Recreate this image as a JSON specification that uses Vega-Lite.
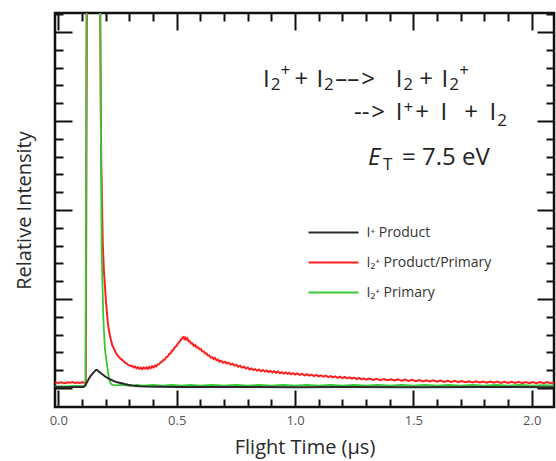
{
  "$schema": "https://vega.github.io/schema/vega-lite/v6.json",
  "width": 499,
  "height": 394,
  "autosize": {"type": "none"},
  "padding": {"left": 55, "top": 13, "right": 2, "bottom": 54},
  "config": {
    "font": "Open Sans",
    "view": {"stroke": "#111111", "strokeWidth": 2.5},
    "axis": {"grid": false, "domain": false, "tickColor": "#111111", "tickWidth": 2, "titleFontWeight": "normal", "titleColor": "#2a2a2a", "labelColor": "#555555", "titleFont": "Open Sans", "labelFont": "Open Sans"},
    "legend": {"labelFont": "Open Sans"}
  },
  "datasets": {
    "red": [
      {"t": -0.014, "v": 0.062, "s": "r"}, {"t": 0.0, "v": 0.058, "s": "r"}, {"t": 0.01, "v": 0.066, "s": "r"}, {"t": 0.02, "v": 0.06, "s": "r"}, {"t": 0.03, "v": 0.055, "s": "r"}, {"t": 0.04, "v": 0.064, "s": "r"}, {"t": 0.05, "v": 0.059, "s": "r"}, {"t": 0.06, "v": 0.067, "s": "r"}, {"t": 0.07, "v": 0.057, "s": "r"}, {"t": 0.08, "v": 0.062, "s": "r"}, {"t": 0.09, "v": 0.058, "s": "r"}, {"t": 0.1, "v": 0.065, "s": "r"}, {"t": 0.11, "v": 0.06, "s": "r"}, {"t": 0.116, "v": 0.07, "s": "r"},
      {"t": 0.121, "v": 4.6, "s": "r"}, {"t": 0.176, "v": 4.6, "s": "r"}, {"t": 0.181, "v": 2.6, "s": "r"}, {"t": 0.188, "v": 1.6, "s": "r"}, {"t": 0.193, "v": 1.3, "s": "r"}, {"t": 0.197, "v": 1.15, "s": "r"}, {"t": 0.201, "v": 0.98, "s": "r"}, {"t": 0.205, "v": 0.86, "s": "r"}, {"t": 0.209, "v": 0.74, "s": "r"}, {"t": 0.213, "v": 0.66, "s": "r"}, {"t": 0.218, "v": 0.59, "s": "r"}, {"t": 0.223, "v": 0.53, "s": "r"}, {"t": 0.228, "v": 0.48, "s": "r"}, {"t": 0.234, "v": 0.45, "s": "r"}, {"t": 0.24, "v": 0.41, "s": "r"}, {"t": 0.246, "v": 0.385, "s": "r"}, {"t": 0.252, "v": 0.36, "s": "r"}, {"t": 0.258, "v": 0.345, "s": "r"}, {"t": 0.264, "v": 0.325, "s": "r"}, {"t": 0.27, "v": 0.318, "s": "r"}, {"t": 0.276, "v": 0.3, "s": "r"}, {"t": 0.282, "v": 0.285, "s": "r"}, {"t": 0.288, "v": 0.278, "s": "r"}, {"t": 0.294, "v": 0.262, "s": "r"}, {"t": 0.3, "v": 0.258, "s": "r"}, {"t": 0.306, "v": 0.245, "s": "r"}, {"t": 0.312, "v": 0.25, "s": "r"}, {"t": 0.318, "v": 0.232, "s": "r"}, {"t": 0.324, "v": 0.242, "s": "r"}, {"t": 0.33, "v": 0.222, "s": "r"}, {"t": 0.336, "v": 0.235, "s": "r"}, {"t": 0.342, "v": 0.215, "s": "r"}, {"t": 0.348, "v": 0.23, "s": "r"}, {"t": 0.354, "v": 0.212, "s": "r"}, {"t": 0.36, "v": 0.232, "s": "r"}, {"t": 0.366, "v": 0.218, "s": "r"}, {"t": 0.372, "v": 0.234, "s": "r"}, {"t": 0.378, "v": 0.215, "s": "r"}, {"t": 0.384, "v": 0.236, "s": "r"}, {"t": 0.39, "v": 0.222, "s": "r"}, {"t": 0.396, "v": 0.244, "s": "r"}, {"t": 0.402, "v": 0.23, "s": "r"}, {"t": 0.408, "v": 0.252, "s": "r"}, {"t": 0.414, "v": 0.243, "s": "r"}, {"t": 0.42, "v": 0.265, "s": "r"}, {"t": 0.426, "v": 0.268, "s": "r"}, {"t": 0.432, "v": 0.288, "s": "r"}, {"t": 0.438, "v": 0.294, "s": "r"}, {"t": 0.444, "v": 0.316, "s": "r"}, {"t": 0.45, "v": 0.32, "s": "r"}, {"t": 0.456, "v": 0.348, "s": "r"}, {"t": 0.462, "v": 0.352, "s": "r"}, {"t": 0.468, "v": 0.381, "s": "r"}, {"t": 0.474, "v": 0.388, "s": "r"}, {"t": 0.48, "v": 0.418, "s": "r"}, {"t": 0.486, "v": 0.428, "s": "r"}, {"t": 0.492, "v": 0.458, "s": "r"}, {"t": 0.498, "v": 0.468, "s": "r"}, {"t": 0.504, "v": 0.495, "s": "r"}, {"t": 0.51, "v": 0.512, "s": "r"}, {"t": 0.516, "v": 0.535, "s": "r"}, {"t": 0.52, "v": 0.552, "s": "r"}, {"t": 0.524, "v": 0.566, "s": "r"}, {"t": 0.528, "v": 0.572, "s": "r"}, {"t": 0.532, "v": 0.552, "s": "r"}, {"t": 0.536, "v": 0.568, "s": "r"}, {"t": 0.54, "v": 0.545, "s": "r"}, {"t": 0.545, "v": 0.558, "s": "r"}, {"t": 0.55, "v": 0.527, "s": "r"}, {"t": 0.555, "v": 0.528, "s": "r"}, {"t": 0.56, "v": 0.502, "s": "r"}, {"t": 0.566, "v": 0.503, "s": "r"}, {"t": 0.572, "v": 0.475, "s": "r"}, {"t": 0.578, "v": 0.485, "s": "r"}, {"t": 0.584, "v": 0.457, "s": "r"}, {"t": 0.59, "v": 0.458, "s": "r"}, {"t": 0.596, "v": 0.437, "s": "r"}, {"t": 0.602, "v": 0.438, "s": "r"}, {"t": 0.608, "v": 0.412, "s": "r"}, {"t": 0.614, "v": 0.411, "s": "r"}, {"t": 0.62, "v": 0.387, "s": "r"}, {"t": 0.626, "v": 0.388, "s": "r"}, {"t": 0.632, "v": 0.365, "s": "r"}, {"t": 0.638, "v": 0.365, "s": "r"}, {"t": 0.644, "v": 0.342, "s": "r"}, {"t": 0.65, "v": 0.345, "s": "r"}, {"t": 0.656, "v": 0.325, "s": "r"}, {"t": 0.662, "v": 0.338, "s": "r"}, {"t": 0.668, "v": 0.312, "s": "r"}, {"t": 0.674, "v": 0.321, "s": "r"}, {"t": 0.68, "v": 0.297, "s": "r"}, {"t": 0.688, "v": 0.308, "s": "r"}, {"t": 0.696, "v": 0.285, "s": "r"}, {"t": 0.704, "v": 0.295, "s": "r"}, {"t": 0.712, "v": 0.275, "s": "r"}, {"t": 0.72, "v": 0.285, "s": "r"}, {"t": 0.728, "v": 0.263, "s": "r"}, {"t": 0.736, "v": 0.273, "s": "r"}, {"t": 0.744, "v": 0.252, "s": "r"}, {"t": 0.752, "v": 0.261, "s": "r"}, {"t": 0.76, "v": 0.239, "s": "r"}, {"t": 0.768, "v": 0.251, "s": "r"}, {"t": 0.776, "v": 0.229, "s": "r"}, {"t": 0.784, "v": 0.239, "s": "r"}, {"t": 0.792, "v": 0.219, "s": "r"}, {"t": 0.8, "v": 0.231, "s": "r"}, {"t": 0.808, "v": 0.209, "s": "r"}, {"t": 0.816, "v": 0.221, "s": "r"}, {"t": 0.824, "v": 0.202, "s": "r"}, {"t": 0.832, "v": 0.213, "s": "r"}, {"t": 0.84, "v": 0.195, "s": "r"}, {"t": 0.848, "v": 0.208, "s": "r"}, {"t": 0.856, "v": 0.189, "s": "r"}, {"t": 0.864, "v": 0.203, "s": "r"}, {"t": 0.872, "v": 0.185, "s": "r"}, {"t": 0.88, "v": 0.198, "s": "r"}, {"t": 0.888, "v": 0.181, "s": "r"}, {"t": 0.896, "v": 0.193, "s": "r"}, {"t": 0.904, "v": 0.175, "s": "r"}, {"t": 0.912, "v": 0.189, "s": "r"}, {"t": 0.92, "v": 0.172, "s": "r"}, {"t": 0.928, "v": 0.185, "s": "r"}, {"t": 0.936, "v": 0.167, "s": "r"}, {"t": 0.944, "v": 0.179, "s": "r"}, {"t": 0.952, "v": 0.163, "s": "r"}, {"t": 0.96, "v": 0.175, "s": "r"}, {"t": 0.968, "v": 0.159, "s": "r"}, {"t": 0.976, "v": 0.171, "s": "r"}, {"t": 0.984, "v": 0.155, "s": "r"}, {"t": 0.992, "v": 0.168, "s": "r"}, {"t": 1.0, "v": 0.152, "s": "r"}, {"t": 1.01, "v": 0.165, "s": "r"}, {"t": 1.02, "v": 0.147, "s": "r"}, {"t": 1.03, "v": 0.159, "s": "r"}, {"t": 1.04, "v": 0.143, "s": "r"}, {"t": 1.05, "v": 0.155, "s": "r"}, {"t": 1.06, "v": 0.139, "s": "r"}, {"t": 1.07, "v": 0.151, "s": "r"}, {"t": 1.08, "v": 0.135, "s": "r"}, {"t": 1.09, "v": 0.148, "s": "r"}, {"t": 1.1, "v": 0.131, "s": "r"}, {"t": 1.11, "v": 0.143, "s": "r"}, {"t": 1.12, "v": 0.127, "s": "r"}, {"t": 1.13, "v": 0.139, "s": "r"}, {"t": 1.14, "v": 0.123, "s": "r"}, {"t": 1.15, "v": 0.135, "s": "r"}, {"t": 1.16, "v": 0.119, "s": "r"}, {"t": 1.17, "v": 0.131, "s": "r"}, {"t": 1.18, "v": 0.115, "s": "r"}, {"t": 1.19, "v": 0.128, "s": "r"}, {"t": 1.2, "v": 0.112, "s": "r"}, {"t": 1.21, "v": 0.124, "s": "r"}, {"t": 1.22, "v": 0.108, "s": "r"}, {"t": 1.23, "v": 0.12, "s": "r"}, {"t": 1.24, "v": 0.105, "s": "r"}, {"t": 1.25, "v": 0.117, "s": "r"}, {"t": 1.26, "v": 0.101, "s": "r"}, {"t": 1.27, "v": 0.113, "s": "r"}, {"t": 1.28, "v": 0.098, "s": "r"}, {"t": 1.29, "v": 0.11, "s": "r"}, {"t": 1.3, "v": 0.095, "s": "r"}, {"t": 1.315, "v": 0.107, "s": "r"}, {"t": 1.33, "v": 0.092, "s": "r"}, {"t": 1.345, "v": 0.104, "s": "r"}, {"t": 1.36, "v": 0.089, "s": "r"}, {"t": 1.375, "v": 0.102, "s": "r"}, {"t": 1.39, "v": 0.087, "s": "r"}, {"t": 1.405, "v": 0.099, "s": "r"}, {"t": 1.42, "v": 0.084, "s": "r"}, {"t": 1.435, "v": 0.097, "s": "r"}, {"t": 1.45, "v": 0.082, "s": "r"}, {"t": 1.465, "v": 0.094, "s": "r"}, {"t": 1.48, "v": 0.08, "s": "r"}, {"t": 1.495, "v": 0.092, "s": "r"}, {"t": 1.51, "v": 0.077, "s": "r"}, {"t": 1.525, "v": 0.09, "s": "r"}, {"t": 1.54, "v": 0.075, "s": "r"}, {"t": 1.555, "v": 0.088, "s": "r"}, {"t": 1.57, "v": 0.073, "s": "r"}, {"t": 1.585, "v": 0.086, "s": "r"}, {"t": 1.6, "v": 0.071, "s": "r"}, {"t": 1.615, "v": 0.084, "s": "r"}, {"t": 1.63, "v": 0.069, "s": "r"}, {"t": 1.645, "v": 0.082, "s": "r"}, {"t": 1.66, "v": 0.068, "s": "r"}, {"t": 1.675, "v": 0.08, "s": "r"}, {"t": 1.69, "v": 0.066, "s": "r"}, {"t": 1.705, "v": 0.079, "s": "r"}, {"t": 1.72, "v": 0.065, "s": "r"}, {"t": 1.735, "v": 0.077, "s": "r"}, {"t": 1.75, "v": 0.063, "s": "r"}, {"t": 1.765, "v": 0.076, "s": "r"}, {"t": 1.78, "v": 0.062, "s": "r"}, {"t": 1.795, "v": 0.074, "s": "r"}, {"t": 1.81, "v": 0.061, "s": "r"}, {"t": 1.825, "v": 0.073, "s": "r"}, {"t": 1.84, "v": 0.059, "s": "r"}, {"t": 1.855, "v": 0.072, "s": "r"}, {"t": 1.87, "v": 0.058, "s": "r"}, {"t": 1.885, "v": 0.071, "s": "r"}, {"t": 1.9, "v": 0.057, "s": "r"}, {"t": 1.915, "v": 0.07, "s": "r"}, {"t": 1.93, "v": 0.056, "s": "r"}, {"t": 1.945, "v": 0.069, "s": "r"}, {"t": 1.96, "v": 0.055, "s": "r"}, {"t": 1.975, "v": 0.068, "s": "r"}, {"t": 1.99, "v": 0.055, "s": "r"}, {"t": 2.005, "v": 0.067, "s": "r"}, {"t": 2.02, "v": 0.054, "s": "r"}, {"t": 2.035, "v": 0.067, "s": "r"}, {"t": 2.05, "v": 0.054, "s": "r"}, {"t": 2.065, "v": 0.066, "s": "r"}, {"t": 2.08, "v": 0.053, "s": "r"}, {"t": 2.094, "v": 0.064, "s": "r"}
    ],
    "green": [
      {"t": -0.014, "v": 0.022, "s": "g"}, {"t": 0.03, "v": 0.018, "s": "g"}, {"t": 0.07, "v": 0.024, "s": "g"}, {"t": 0.11, "v": 0.02, "s": "g"}, {"t": 0.115, "v": 0.03, "s": "g"}, {"t": 0.119, "v": 4.6, "s": "g"}, {"t": 0.173, "v": 4.6, "s": "g"}, {"t": 0.177, "v": 4.2, "s": "g"}, {"t": 0.18, "v": 2.8, "s": "g"}, {"t": 0.183, "v": 1.55, "s": "g"}, {"t": 0.19, "v": 0.8, "s": "g"}, {"t": 0.197, "v": 0.43, "s": "g"}, {"t": 0.207, "v": 0.24, "s": "g"}, {"t": 0.213, "v": 0.13, "s": "g"}, {"t": 0.218, "v": 0.07, "s": "g"}, {"t": 0.225, "v": 0.04, "s": "g"}, {"t": 0.24, "v": 0.03, "s": "g"}, {"t": 0.27, "v": 0.035, "s": "g"}, {"t": 0.3, "v": 0.025, "s": "g"}, {"t": 0.33, "v": 0.036, "s": "g"}, {"t": 0.36, "v": 0.027, "s": "g"}, {"t": 0.4, "v": 0.034, "s": "g"}, {"t": 0.44, "v": 0.026, "s": "g"}, {"t": 0.48, "v": 0.035, "s": "g"}, {"t": 0.52, "v": 0.028, "s": "g"}, {"t": 0.56, "v": 0.036, "s": "g"}, {"t": 0.6, "v": 0.027, "s": "g"}, {"t": 0.65, "v": 0.035, "s": "g"}, {"t": 0.7, "v": 0.026, "s": "g"}, {"t": 0.75, "v": 0.034, "s": "g"}, {"t": 0.8, "v": 0.027, "s": "g"}, {"t": 0.85, "v": 0.035, "s": "g"}, {"t": 0.9, "v": 0.026, "s": "g"}, {"t": 0.95, "v": 0.034, "s": "g"}, {"t": 1.0, "v": 0.027, "s": "g"}, {"t": 1.05, "v": 0.035, "s": "g"}, {"t": 1.1, "v": 0.026, "s": "g"}, {"t": 1.15, "v": 0.034, "s": "g"}, {"t": 1.2, "v": 0.027, "s": "g"}, {"t": 1.25, "v": 0.035, "s": "g"}, {"t": 1.3, "v": 0.026, "s": "g"}, {"t": 1.35, "v": 0.034, "s": "g"}, {"t": 1.4, "v": 0.027, "s": "g"}, {"t": 1.45, "v": 0.035, "s": "g"}, {"t": 1.5, "v": 0.026, "s": "g"}, {"t": 1.55, "v": 0.034, "s": "g"}, {"t": 1.6, "v": 0.027, "s": "g"}, {"t": 1.65, "v": 0.035, "s": "g"}, {"t": 1.7, "v": 0.026, "s": "g"}, {"t": 1.75, "v": 0.034, "s": "g"}, {"t": 1.8, "v": 0.027, "s": "g"}, {"t": 1.85, "v": 0.035, "s": "g"}, {"t": 1.9, "v": 0.026, "s": "g"}, {"t": 1.95, "v": 0.034, "s": "g"}, {"t": 2.0, "v": 0.027, "s": "g"}, {"t": 2.05, "v": 0.033, "s": "g"}, {"t": 2.094, "v": 0.027, "s": "g"}
    ],
    "black": [
      {"t": -0.014, "v": 0.012, "s": "k"}, {"t": 0.03, "v": 0.01, "s": "k"}, {"t": 0.07, "v": 0.013, "s": "k"}, {"t": 0.105, "v": 0.012, "s": "k"}, {"t": 0.113, "v": 0.025, "s": "k"}, {"t": 0.12, "v": 0.06, "s": "k"}, {"t": 0.128, "v": 0.1, "s": "k"}, {"t": 0.136, "v": 0.135, "s": "k"}, {"t": 0.144, "v": 0.16, "s": "k"}, {"t": 0.152, "v": 0.185, "s": "k"}, {"t": 0.158, "v": 0.2, "s": "k"}, {"t": 0.163, "v": 0.205, "s": "k"}, {"t": 0.168, "v": 0.192, "s": "k"}, {"t": 0.175, "v": 0.178, "s": "k"}, {"t": 0.183, "v": 0.16, "s": "k"}, {"t": 0.19, "v": 0.146, "s": "k"}, {"t": 0.198, "v": 0.13, "s": "k"}, {"t": 0.206, "v": 0.116, "s": "k"}, {"t": 0.215, "v": 0.102, "s": "k"}, {"t": 0.225, "v": 0.09, "s": "k"}, {"t": 0.235, "v": 0.078, "s": "k"}, {"t": 0.245, "v": 0.068, "s": "k"}, {"t": 0.257, "v": 0.06, "s": "k"}, {"t": 0.268, "v": 0.053, "s": "k"}, {"t": 0.28, "v": 0.045, "s": "k"}, {"t": 0.295, "v": 0.036, "s": "k"}, {"t": 0.317, "v": 0.026, "s": "k"}, {"t": 0.34, "v": 0.02, "s": "k"}, {"t": 0.37, "v": 0.016, "s": "k"}, {"t": 0.42, "v": 0.014, "s": "k"}, {"t": 0.5, "v": 0.012, "s": "k"}, {"t": 0.6, "v": 0.011, "s": "k"}, {"t": 0.8, "v": 0.012, "s": "k"}, {"t": 1.0, "v": 0.01, "s": "k"}, {"t": 1.2, "v": 0.011, "s": "k"}, {"t": 1.5, "v": 0.01, "s": "k"}, {"t": 1.8, "v": 0.011, "s": "k"}, {"t": 2.094, "v": 0.01, "s": "k"}
    ],
    "bigText": [
      {"x": 0.865, "y": 3.385, "txt": "I"},
      {"x": 0.998, "y": 3.385, "txt": "+"},
      {"x": 1.091, "y": 3.385, "txt": "I"},
      {"x": 1.17, "y": 3.385, "txt": "––"},
      {"x": 1.28, "y": 3.385, "txt": ">"},
      {"x": 1.425, "y": 3.385, "txt": "I"},
      {"x": 1.525, "y": 3.385, "txt": "+"},
      {"x": 1.619, "y": 3.385, "txt": "I"},
      {"x": 1.249, "y": 3.011, "txt": "--"},
      {"x": 1.322, "y": 3.011, "txt": ">"},
      {"x": 1.425, "y": 3.011, "txt": "I"},
      {"x": 1.508, "y": 3.011, "txt": "+"},
      {"x": 1.615, "y": 3.011, "txt": "I"},
      {"x": 1.715, "y": 3.011, "txt": "+"},
      {"x": 1.822, "y": 3.011, "txt": "I"},
      {"x": 1.452, "y": 2.506, "txt": "= 7.5 eV"}
    ],
    "smallText": [
      {"x": 0.897, "y": 3.345, "txt": "2"},
      {"x": 0.939, "y": 3.5, "txt": "+"},
      {"x": 1.1225, "y": 3.345, "txt": "2"},
      {"x": 1.4575, "y": 3.345, "txt": "2"},
      {"x": 1.651, "y": 3.345, "txt": "2"},
      {"x": 1.6935, "y": 3.5, "txt": "+"},
      {"x": 1.4585, "y": 3.09, "txt": "+"},
      {"x": 1.8545, "y": 2.944, "txt": "2"},
      {"x": 1.372, "y": 2.449, "txt": "T"}
    ],
    "noteE": [{"x": 1.3085, "y": 2.506, "txt": "E"}]
  },
  "layer": [
    {
      "data": {"name": "red"},
      "mark": {"type": "line", "clip": true, "strokeWidth": 2},
      "encoding": {
        "x": {"field": "t", "type": "quantitative", "scale": {"domain": [-0.014, 2.094], "nice": false, "zero": false},
          "axis": {"orient": "bottom", "values": [0, 0.5, 1, 1.5, 2], "format": ".1f", "ticks": false, "labelFlush": false, "labelPadding": 7, "labelFontSize": 13, "title": "Flight Time (µs)", "titleFontSize": 20, "titlePadding": 10}},
        "y": {"field": "v", "type": "quantitative", "scale": {"domain": [-0.213, 4.213], "nice": false, "zero": false},
          "axis": {"orient": "left", "labels": false, "ticks": false, "title": "Relative Intensity", "titleFontSize": 20, "titlePadding": 21}},
        "color": {"field": "s", "type": "nominal",
          "scale": {"domain": ["k", "r", "g"], "range": ["#2a2a2a", "#ff1f1f", "#35c935"]},
          "legend": {"orient": "none", "legendX": 271.5, "legendY": 212.5, "title": null, "padding": 0, "symbolType": "M-5,0H5", "symbolSize": 100, "symbolStrokeWidth": 2, "labelFontSize": 14, "labelColor": "#333333", "labelOffset": 26, "rowPadding": 16,
            "labelExpr": "datum.value == 'k' ? 'I⁺ Product' : datum.value == 'r' ? 'I₂⁺ Product/Primary' : 'I₂⁺ Primary'"}}
      }
    },
    {
      "data": {"name": "green"},
      "mark": {"type": "line", "clip": true, "strokeWidth": 1.8},
      "encoding": {
        "x": {"field": "t", "type": "quantitative", "scale": {"domain": [-0.014, 2.094], "nice": false, "zero": false},
          "axis": {"orient": "bottom", "values": [0, 0.5, 1, 1.5, 2], "labels": false, "title": null, "tickSize": -17}},
        "y": {"field": "v", "type": "quantitative", "scale": {"domain": [-0.213, 4.213], "nice": false, "zero": false},
          "axis": {"orient": "left", "values": [0, 1, 2, 3, 4], "labels": false, "title": null, "tickSize": -17}},
        "color": {"field": "s", "type": "nominal"}
      }
    },
    {
      "data": {"name": "black"},
      "mark": {"type": "line", "clip": true, "strokeWidth": 2},
      "encoding": {
        "x": {"field": "t", "type": "quantitative", "scale": {"domain": [-0.014, 2.094], "nice": false, "zero": false},
          "axis": {"orient": "bottom", "values": [0.1, 0.2, 0.3, 0.4, 0.6, 0.7, 0.8, 0.9, 1.1, 1.2, 1.3, 1.4, 1.6, 1.7, 1.8, 1.9], "labels": false, "title": null, "tickSize": -8}},
        "y": {"field": "v", "type": "quantitative", "scale": {"domain": [-0.213, 4.213], "nice": false, "zero": false},
          "axis": {"orient": "left", "values": [0.2, 0.4, 0.6, 0.8, 1.2, 1.4, 1.6, 1.8, 2.2, 2.4, 2.6, 2.8, 3.2, 3.4, 3.6, 3.8, 4.2], "labels": false, "title": null, "tickSize": -8}},
        "color": {"field": "s", "type": "nominal"}
      }
    },
    {
      "data": {"name": "bigText"},
      "mark": {"type": "text", "align": "left", "baseline": "alphabetic", "fontSize": 24, "font": "Open Sans", "color": "#222222"},
      "encoding": {
        "x": {"field": "x", "type": "quantitative", "scale": {"domain": [-0.014, 2.094], "nice": false, "zero": false},
          "axis": {"orient": "top", "values": [0, 0.5, 1, 1.5, 2], "labels": false, "title": null, "tickSize": -17}},
        "y": {"field": "y", "type": "quantitative", "scale": {"domain": [-0.213, 4.213], "nice": false, "zero": false},
          "axis": {"orient": "right", "values": [0, 1, 2, 3, 4], "labels": false, "title": null, "tickSize": -17}},
        "text": {"field": "txt"}
      }
    },
    {
      "data": {"name": "smallText"},
      "mark": {"type": "text", "align": "left", "baseline": "alphabetic", "fontSize": 17, "font": "Open Sans", "color": "#222222"},
      "encoding": {
        "x": {"field": "x", "type": "quantitative", "scale": {"domain": [-0.014, 2.094], "nice": false, "zero": false},
          "axis": {"orient": "top", "values": [0.1, 0.2, 0.3, 0.4, 0.6, 0.7, 0.8, 0.9, 1.1, 1.2, 1.3, 1.4, 1.6, 1.7, 1.8, 1.9], "labels": false, "title": null, "tickSize": -8}},
        "y": {"field": "y", "type": "quantitative", "scale": {"domain": [-0.213, 4.213], "nice": false, "zero": false},
          "axis": {"orient": "right", "values": [0.2, 0.4, 0.6, 0.8, 1.2, 1.4, 1.6, 1.8, 2.2, 2.4, 2.6, 2.8, 3.2, 3.4, 3.6, 3.8, 4.2], "labels": false, "title": null, "tickSize": -8}},
        "text": {"field": "txt"}
      }
    },
    {
      "data": {"name": "noteE"},
      "mark": {"type": "text", "align": "left", "baseline": "alphabetic", "fontSize": 24, "fontStyle": "italic", "font": "Open Sans", "color": "#222222"},
      "encoding": {
        "x": {"field": "x", "type": "quantitative", "scale": {"domain": [-0.014, 2.094], "nice": false, "zero": false}, "axis": null},
        "y": {"field": "y", "type": "quantitative", "scale": {"domain": [-0.213, 4.213], "nice": false, "zero": false}, "axis": null},
        "text": {"field": "txt"}
      }
    }
  ],
  "resolve": {"axis": {"x": "independent", "y": "independent"}}
}
